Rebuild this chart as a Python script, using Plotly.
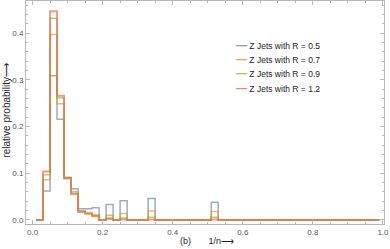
import plotly.graph_objects as go

# Histogram bin left edges (last entry is the closing right edge) for 1/n
bin_start = [0.01, 0.03, 0.05, 0.07, 0.09, 0.11, 0.13, 0.15, 0.17, 0.19,
             0.21, 0.23, 0.25, 0.27, 0.33, 0.35, 0.51, 0.53, 0.99]

r05 = [0, 0.062, 0.309, 0.216, 0.091, 0.067, 0.024, 0.024, 0.026, 0,
       0.033, 0, 0.041, 0, 0.046, 0, 0.038, 0, 0]
r07 = [0, 0.086, 0.397, 0.249, 0.090, 0.061, 0.020, 0.016, 0.011, 0,
       0.010, 0, 0.014, 0, 0.019, 0, 0.018, 0, 0]
r09 = [0, 0.097, 0.432, 0.262, 0.091, 0.058, 0.019, 0.014, 0.009, 0,
       0.004, 0, 0.004, 0, 0.006, 0, 0.006, 0, 0]
r12 = [0, 0.104, 0.447, 0.266, 0.089, 0.055, 0.017, 0.013, 0.008, 0,
       0.002, 0, 0.001, 0, 0.001, 0, 0.001, 0, 0]

series_names = ["Z Jets with R = 0.5", "Z Jets with R = 0.7",
                "Z Jets with R = 0.9", "Z Jets with R = 1.2"]
series_values = [r05, r07, r09, r12]
colors = ["rgba(94,129,181,0.65)", "rgba(225,156,36,0.7)",
          "rgba(143,176,50,0.65)", "rgba(236,110,75,0.7)"]
widths = [1.5, 1.5, 1.5, 1.9]
legend_colors = ["#7F9CC8", "#E6A53A", "#A5C25A", "#EE8A6A"]

x_ticks = [0.0, 0.2, 0.4, 0.6, 0.8, 1.0]
y_ticks = [0.0, 0.1, 0.2, 0.3, 0.4]

fig = go.Figure()
for name, vals, col, w in zip(series_names, series_values, colors, widths):
    fig.add_trace(go.Scatter(x=bin_start, y=vals, mode="lines", name=name,
                             line=dict(color=col, width=w, shape="hv"),
                             showlegend=False))

frame = "#b8b8b8"
sans = "Liberation Sans, Arial, sans-serif"
tickfont = dict(family=sans, size=8, color="#555555")
common = dict(showline=True, linecolor=frame, linewidth=1, mirror="allticks",
              ticks="inside", ticklen=4, tickcolor=frame, tickwidth=1,
              showgrid=False, zeroline=False, tickfont=tickfont,
              ticklabeloverflow="allow")

fig.update_xaxes(range=[-0.0186, 1.003], tickvals=x_ticks,
                 ticktext=[f"{v:.1f}" for v in x_ticks],
                 minor=dict(dtick=0.05, tick0=0, ticks="inside", ticklen=2,
                            tickcolor=frame, showgrid=False),
                 **common)
fig.update_yaxes(range=[-0.0086, 0.469], tickvals=y_ticks,
                 ticktext=[f"{v:.1f}" for v in y_ticks],
                 minor=dict(dtick=0.02, tick0=0, ticks="inside", ticklen=2,
                            tickcolor=frame, showgrid=False),
                 **common)

annotations = []
legend_y = [0.802, 0.739, 0.676, 0.611]
for name, col, yy in zip(series_names, legend_colors, legend_y):
    annotations.append(dict(
        xref="paper", yref="paper", x=0.58, y=yy, xanchor="left", yanchor="middle",
        showarrow=False,
        text=f"<b><span style='color:{col};font-size:11px'>\u2014</span></b> {name}",
        font=dict(family=sans, size=8.5, color="#222222")))

annotations.append(dict(
    xref="paper", yref="paper", x=-0.055, y=0.51, xanchor="center", yanchor="middle",
    textangle=-90, showarrow=False, text="relative probability\u27f6",
    font=dict(family=sans, size=10, color="#222222")))
annotations.append(dict(
    xref="paper", yref="paper", x=0.505, y=-0.076, xanchor="center", yanchor="middle",
    showarrow=False,
    text="(b)\u00a0\u00a0\u00a0\u00a0\u00a0\u00a0\u00a01/n\u27f6",
    font=dict(family=sans, size=9, color="#222222")))

fig.update_layout(width=390, height=249, margin=dict(l=26, r=6, t=1, b=25),
                  paper_bgcolor="white", plot_bgcolor="white",
                  annotations=annotations, showlegend=False)

fig.write_html("out.html", config={"displayModeBar": False},
               post_script="document.body.style.margin='0px';"
                           "document.body.style.overflow='hidden';")
